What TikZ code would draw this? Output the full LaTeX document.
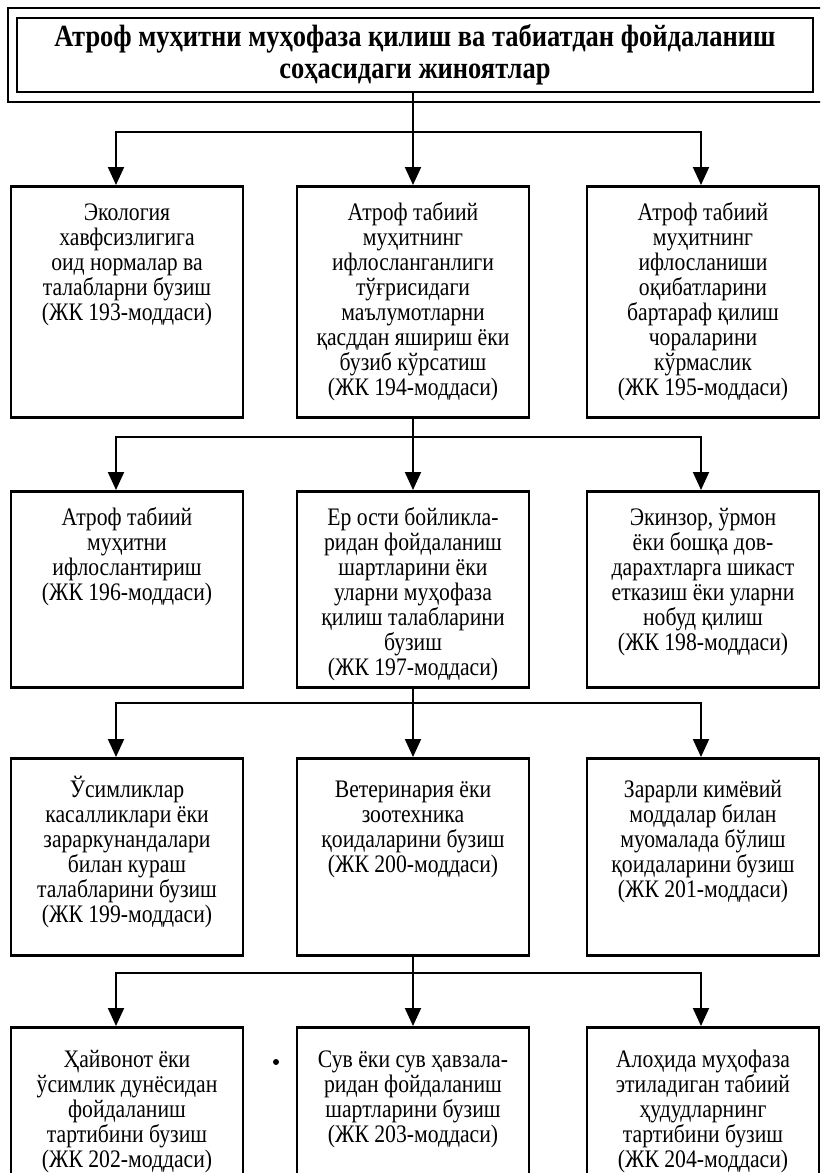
\documentclass[tikz,border=0pt]{standalone}
\usepackage{fontspec}
\setmainfont{Liberation Serif}
\newfontfamily\narrowfont[FakeStretch=0.86]{Liberation Serif}
\usetikzlibrary{arrows.meta}
% box text: fixed height, set from the top
\newcommand{\boxtext}[3][17pt]{\parbox[c][#2][t]{116pt}{\centering\rule{0pt}{#1}#3}}
\begin{document}
\begin{tikzpicture}[
    x=0.5pt, y=-0.5pt,
    cell/.style = {draw, line width=1.3pt, inner sep=0pt, anchor=north,
                font=\narrowfont\fontsize{12.6}{12.5}\selectfont},
    head/.style = {draw, line width=1pt, minimum width=398pt, minimum height=35pt,
                align=center, font=\narrowfont\bfseries\fontsize{15.4}{16}\selectfont},
    frame/.style = {line width=1pt},
    link/.style = {line width=1pt},
    arr/.style = {link, -{Triangle[length=9pt,width=8pt]}}
                    ]
        \useasboundingbox (0,0) rectangle (820,1173);
        \clip (0,0) rectangle (820,1173);
        \node[head] at (415,55) (crimes) {Атроф муҳитни муҳофаза қилиш ва табиатдан фойдаланиш\\соҳасидаги жиноятлар};
        \draw[frame] ([shift={(-4pt,4.5pt)}]crimes.north west) rectangle ([shift={(10pt,-4.5pt)}]crimes.south east);
        \def\ra{115.5pt}
        \node[cell] at (127,185) (eco) {\boxtext{\ra}{Экология\\хавфсизлигига\\оид нормалар ва\\талабларни бузиш\\(ЖК 193-моддаси)}};
        \node[cell] at (413,185) (info) {\boxtext{\ra}{Атроф табиий\\муҳитнинг\\ифлосланганлиги\\тўғрисидаги\\маълумотларни\\қасддан яшириш ёки\\бузиб кўрсатиш\\(ЖК 194-моддаси)}};
        \node[cell] at (703,185) (conseq) {\boxtext{\ra}{Атроф табиий\\муҳитнинг\\ифлосланиши\\оқибатларини\\бартараф қилиш\\чораларини\\кўрмаслик\\(ЖК 195-моддаси)}};
        \def\rb{98pt}
        \node[cell] at (127,490) (pollute) {\boxtext{\rb}{Атроф табиий\\муҳитни\\ифлослантириш\\(ЖК 196-моддаси)}};
        \node[cell] at (413,490) (subsoil) {\boxtext{\rb}{Ер ости бойликла-\\ридан фойдаланиш\\шартларини ёки\\уларни муҳофаза\\қилиш талабларини\\бузиш\\(ЖК 197-моддаси)}};
        \node[cell] at (703,490) (forest) {\boxtext{\rb}{Экинзор, ўрмон\\ёки бошқа дов-\\дарахтларга шикаст\\етказиш ёки уларни\\нобуд қилиш\\(ЖК 198-моддаси)}};
        \def\rc{98.5pt}
        \node[cell] at (127,757) (plant) {\boxtext[19.5pt]{\rc}{Ўсимликлар\\касалликлари ёки\\зараркунандалари\\билан кураш\\талабларини бузиш\\(ЖК 199-моддаси)}};
        \node[cell] at (413,757) (vet) {\boxtext[19.5pt]{\rc}{Ветеринария ёки\\зоотехника\\қоидаларини бузиш\\(ЖК 200-моддаси)}};
        \node[cell] at (703,757) (chem) {\boxtext[19.5pt]{\rc}{Зарарли кимёвий\\моддалар билан\\муомалада бўлиш\\қоидаларини бузиш\\(ЖК 201-моддаси)}};
        \def\rd{90pt}
        \node[cell] at (127,1026) (fauna) {\boxtext[20pt]{\rd}{Ҳайвонот ёки\\ўсимлик дунёсидан\\фойдаланиш\\тартибини бузиш\\(ЖК 202-моддаси)}};
        \node[cell] at (413,1026) (water) {\boxtext[20pt]{\rd}{Сув ёки сув ҳавзала-\\ридан фойдаланиш\\шартларини бузиш\\(ЖК 203-моддаси)}};
        \node[cell] at (703,1026) (reserve) {\boxtext[20pt]{\rd}{Алоҳида муҳофаза\\этиладиган табиий\\ҳудудларнинг\\тартибини бузиш\\(ЖК 204-моддаси)}};
        % branches: parent / left / middle / right / level of the bar
        \foreach \p/\a/\b/\c/\y in {crimes/eco/info/conseq/132, info/pollute/subsoil/forest/437,
                subsoil/plant/vet/chem/703, vet/fauna/water/reserve/973}
        {
            \path (0,\y) coordinate (h);
            \draw[link] (\b.north |- \p.south) -- (\b.north |- h) coordinate (j);
            \draw[arr] (j) -| ([xshift=-5.5pt]\a.north);
            \draw[arr] (j) -- (\b.north);
            \draw[arr] (j) -| ([xshift=-1pt]\c.north);
        }
        \fill (276,1062) circle (1.5pt);
    \end{tikzpicture}
\end{document}
